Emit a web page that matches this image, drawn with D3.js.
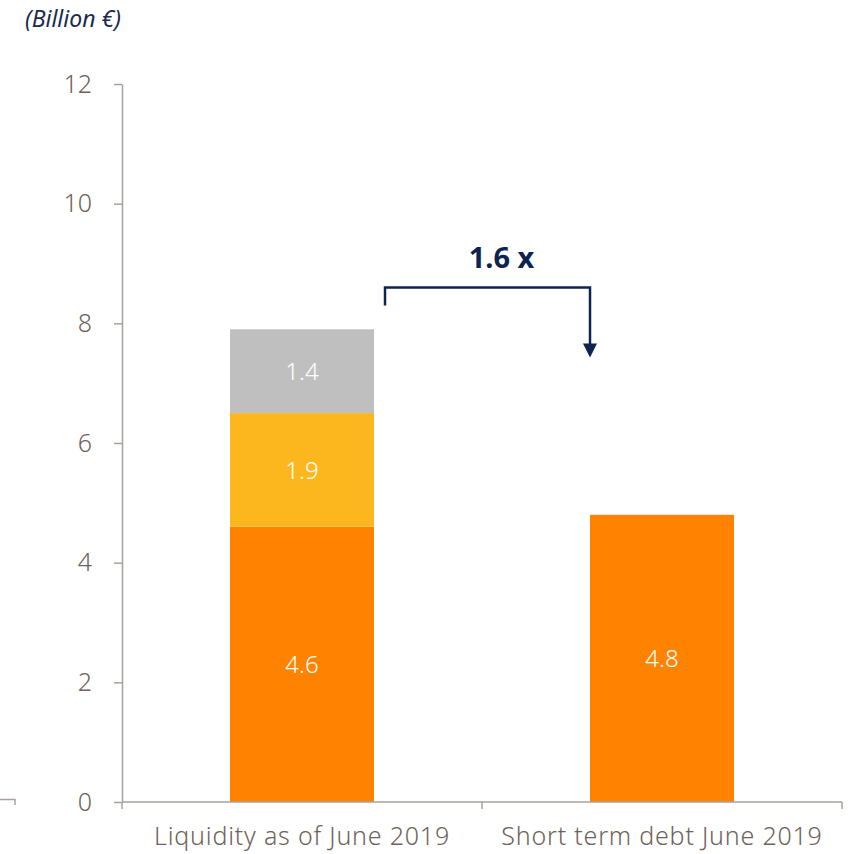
<!DOCTYPE html>
<html>
<head>
<meta charset="utf-8">
<script src="https://cdn.jsdelivr.net/npm/d3@7"></script>
<style>
  html, body { margin: 0; padding: 0; background: #fff; }
  svg { display: block; }
  text { font-family: "Noto Sans", "DejaVu Sans", sans-serif; }
</style>
</head>
<body>
<svg id="chart" width="858" height="854"></svg>
<script>
// Liquidity versus short term debt, billion €
const categories = ["Liquidity as of June 2019", "Short term debt June 2019"];
const seriesKeys = ["base", "middle", "top"];
const baseValues = [4.6, 4.8];
const middleValues = [1.9, 0];
const topValues = [1.4, 0];
const seriesColors = ["#FF8300", "#FDB71E", "#BFBFBF"];
const yTicks = [0, 2, 4, 6, 8, 10, 12];
const unitLabel = "(Billion €)";
const ratioLabel = "1.6 x";

const rows = categories.map((c, i) => ({
  category: c,
  base: baseValues[i],
  middle: middleValues[i],
  top: topValues[i]
}));

const svg = d3.select("#chart");
const margin = { left: 122, right: 16, top: 84, bottom: 52 };
const W = 858, H = 854;

const x = d3.scaleBand()
  .domain(categories)
  .range([margin.left, W - margin.right])
  .paddingInner(0.6)
  .paddingOuter(0.3);

const y = d3.scaleLinear()
  .domain([0, 12])
  .range([H - margin.bottom, margin.top]);

const axisColor = "#A8A29E";
const tickTextColor = "#6E625A";

// stacked bars
const stacked = d3.stack().keys(seriesKeys)(rows);
const layers = svg.append("g").selectAll("g")
  .data(stacked)
  .join("g")
  .attr("fill", (d, i) => seriesColors[i]);

layers.selectAll("rect")
  .data(d => d.filter(s => s[1] - s[0] > 0))
  .join("rect")
  .attr("x", d => x(d.data.category))
  .attr("width", x.bandwidth())
  .attr("y", d => y(d[1]))
  .attr("height", d => y(d[0]) - y(d[1]));

// segment value labels
stacked.forEach(layer => {
  layer.filter(s => s[1] - s[0] > 0).forEach(s => {
    svg.append("text")
      .attr("x", x(s.data.category) + x.bandwidth() / 2)
      .attr("y", (y(s[0]) + y(s[1])) / 2)
      .attr("dy", "0.36em")
      .attr("text-anchor", "middle")
      .attr("fill", "#fff")
      .attr("font-size", 24)
      .attr("font-weight", 300)
      .text(d3.format(".1f")(s[1] - s[0]));
  });
});

// y axis
const yAxis = svg.append("g")
  .attr("transform", `translate(${margin.left},0)`)
  .call(d3.axisLeft(y).tickValues(yTicks).tickSize(8).tickPadding(22).tickSizeOuter(0));
yAxis.select(".domain").attr("stroke", axisColor).attr("stroke-width", 1.5);
yAxis.selectAll(".tick line").attr("stroke", axisColor).attr("stroke-width", 1.5);
yAxis.selectAll(".tick text")
  .attr("fill", tickTextColor)
  .attr("font-size", 25)
  .attr("font-family", "'Noto Sans', sans-serif")
  .attr("font-weight", 300);

// x axis with boundary ticks between categories
const xAxisG = svg.append("g").attr("transform", `translate(0,${y(0)})`);
const bounds = [margin.left, (margin.left + W - margin.right) / 2, W - margin.right];
xAxisG.append("line")
  .attr("x1", bounds[0]).attr("x2", bounds[2])
  .attr("stroke", axisColor).attr("stroke-width", 1.5);
xAxisG.selectAll("line.tk").data(bounds).join("line")
  .attr("class", "tk")
  .attr("x1", d => d).attr("x2", d => d)
  .attr("y1", 0).attr("y2", 7)
  .attr("stroke", axisColor).attr("stroke-width", 1.5);
xAxisG.selectAll("text").data(categories).join("text")
  .attr("x", d => x(d) + x.bandwidth() / 2)
  .attr("y", 43)
  .attr("text-anchor", "middle")
  .attr("fill", tickTextColor)
  .attr("font-size", 25)
  .attr("font-weight", 300)
  .attr("letter-spacing", 0.8)
  .text(d => d);

// stray corner stub at the bottom left
svg.append("path")
  .attr("d", `M0,${y(0) - 2.5}H15V${y(0) + 3}`)
  .attr("fill", "none")
  .attr("stroke", axisColor)
  .attr("stroke-width", 1.5);

// unit label
svg.append("text")
  .attr("x", 25)
  .attr("y", 27)
  .attr("fill", "#1B2B4F")
  .attr("font-size", 23)
  .attr("font-style", "italic")
  .text(unitLabel);

// ratio bracket from liquidity bar to debt bar
const navy = "#0D2350";
const x0 = x(categories[0]) + x.bandwidth() + 11;
const x1 = x(categories[1]);
const yTop = y(8.6), yStart = y(8.3), yTip = y(7.43);
svg.append("path")
  .attr("d", `M${x0},${yStart}V${yTop}H${x1}V${yTip - 12}`)
  .attr("fill", "none")
  .attr("stroke", navy)
  .attr("stroke-width", 2.5);
svg.append("path")
  .attr("d", `M${x1 - 7},${yTip - 14}L${x1 + 7},${yTip - 14}L${x1},${yTip}Z`)
  .attr("fill", navy);
svg.append("text")
  .attr("x", (x0 + x1) / 2 + 14)
  .attr("y", 268)
  .attr("text-anchor", "middle")
  .attr("fill", navy)
  .attr("font-size", 29)
  .attr("font-weight", 700)
  .text(ratioLabel);
</script>
</body>
</html>
